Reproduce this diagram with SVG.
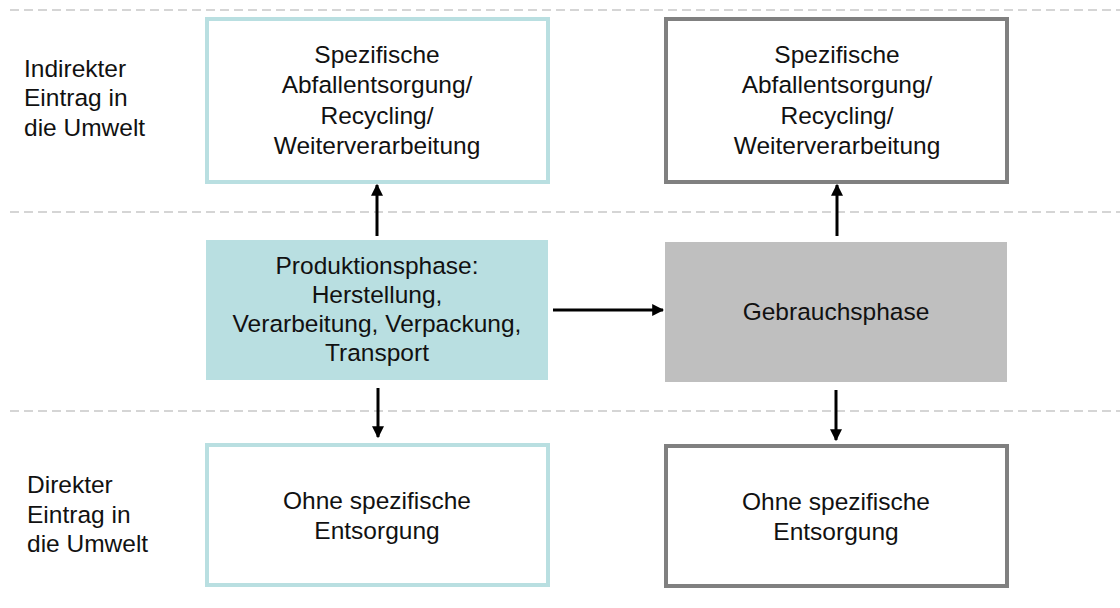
<svg xmlns="http://www.w3.org/2000/svg" width="1120" height="608" viewBox="0 0 1120 608">
<defs>
<marker id="ah" viewBox="0 0 10 10" refX="9" refY="5" markerWidth="4" markerHeight="4" orient="auto" markerUnits="strokeWidth">
<path d="M0,0 L10,5 L0,10 z" fill="#000"/>
</marker>
<style>
text{font-family:"Liberation Sans",Arial,sans-serif;font-size:24.5px;fill:#111}
.c{text-anchor:middle}
.sep{stroke:#c8c8c8;stroke-width:1.5;stroke-dasharray:9 5;fill:none}
.blue{fill:#fff;stroke:#b9dfe1;stroke-width:4}
.grey{fill:#fff;stroke:#808080;stroke-width:4}
.conn line{stroke:#000;stroke-width:3;marker-end:url(#ah)}
</style>
</defs>
<rect width="1120" height="608" fill="#fff"/>
<g id="separators">
<line class="sep" x1="10" y1="10" x2="1120" y2="10"/>
<line class="sep" x1="10" y1="212" x2="1120" y2="212"/>
<line class="sep" x1="10" y1="411" x2="1120" y2="411"/>
</g>
<g id="label-indirekt">
<text x="24" y="77">Indirekter</text>
<text x="24" y="106">Eintrag in</text>
<text x="24" y="136">die Umwelt</text>
</g>
<g id="label-direkt">
<text x="27" y="493">Direkter</text>
<text x="27" y="523">Eintrag in</text>
<text x="27" y="552">die Umwelt</text>
</g>
<g id="n-top-left">
<rect class="blue" x="207" y="19" width="341" height="163"/>
<text class="c" x="377" y="63">Spezifische</text>
<text class="c" x="377" y="93">Abfallentsorgung/</text>
<text class="c" x="377" y="124">Recycling/</text>
<text class="c" x="377" y="154">Weiterverarbeitung</text>
</g>
<g id="n-top-right">
<rect class="grey" x="666" y="19" width="341" height="163"/>
<text class="c" x="837" y="63">Spezifische</text>
<text class="c" x="837" y="93">Abfallentsorgung/</text>
<text class="c" x="837" y="124">Recycling/</text>
<text class="c" x="837" y="154">Weiterverarbeitung</text>
</g>
<g id="n-produktion">
<rect x="206" y="240" width="342" height="140" fill="#b9dfe1"/>
<text class="c" x="377" y="274">Produktionsphase:</text>
<text class="c" x="377" y="303">Herstellung,</text>
<text class="c" x="377" y="332">Verarbeitung, Verpackung,</text>
<text class="c" x="377" y="361">Transport</text>
</g>
<g id="n-gebrauch">
<rect x="665" y="242" width="342" height="140" fill="#bfbfbf"/>
<text class="c" x="836" y="320">Gebrauchsphase</text>
</g>
<g id="n-bottom-left">
<rect class="blue" x="207" y="445" width="341" height="140"/>
<text class="c" x="377" y="509">Ohne spezifische</text>
<text class="c" x="377" y="539">Entsorgung</text>
</g>
<g id="n-bottom-right">
<rect class="grey" x="666" y="446" width="341" height="140"/>
<text class="c" x="836" y="510">Ohne spezifische</text>
<text class="c" x="836" y="540">Entsorgung</text>
</g>
<g id="connectors" class="conn">
<line x1="377" y1="236" x2="377" y2="185"/>
<line x1="837" y1="236" x2="837" y2="185"/>
<line x1="553" y1="310" x2="663" y2="310"/>
<line x1="378" y1="388" x2="378" y2="437"/>
<line x1="836" y1="390" x2="836" y2="440"/>
</g>
</svg>
